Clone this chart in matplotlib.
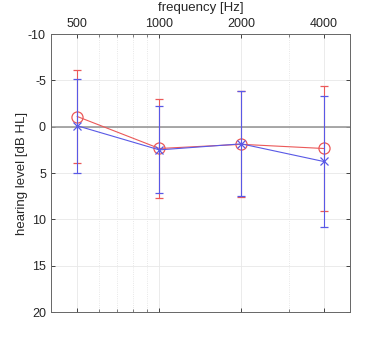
import matplotlib
matplotlib.use("Agg")
import matplotlib.pyplot as plt
import matplotlib.ticker as mticker

plt.rcParams["font.family"] = ["Liberation Sans", "DejaVu Sans"]
plt.rcParams["axes.unicode_minus"] = False

# audiogram data (hearing level in dB HL)
freqs = [500, 1000, 2000, 4000]
red_mean = [-1.1, 2.35, 1.9, 2.35]
red_err = [5.0, 5.35, 5.7, 6.75]
blue_mean = [-0.1, 2.5, 1.85, 3.75]
blue_err = [5.05, 4.7, 5.65, 7.05]

xticks = [500, 1000, 2000, 4000]
minor_xticks = [600, 700, 800, 900, 3000]
yticks = [-10, -5, 0, 5, 10, 15, 20]

RED = (0.92, 0.35, 0.35)
BLUE = (0.35, 0.35, 0.9)

fig = plt.figure(figsize=(3.88, 3.51), dpi=100)
ax = fig.add_axes([0.131, 0.111, 0.771, 0.792])

ax.axhline(0, color="0.6", linewidth=1.2, zorder=1)

ax.errorbar(freqs, red_mean, yerr=red_err, color=RED, marker="o",
            markersize=8, markerfacecolor="none", markeredgewidth=0.9,
            linewidth=0.8, elinewidth=0.8, capsize=3, capthick=0.8, zorder=3)
ax.errorbar(freqs, blue_mean, yerr=blue_err, color=BLUE, marker="x",
            markersize=6, markeredgewidth=0.9,
            linewidth=0.8, elinewidth=0.8, capsize=3, capthick=0.8, zorder=4)

ax.set_xscale("log")
ax.set_xlim(400, 5000)
ax.set_ylim(20, -10)
ax.xaxis.set_major_locator(mticker.FixedLocator(xticks))
ax.xaxis.set_major_formatter(mticker.FixedFormatter([str(f) for f in xticks]))
ax.xaxis.set_minor_locator(mticker.FixedLocator(minor_xticks))
ax.xaxis.set_minor_formatter(mticker.NullFormatter())
ax.set_yticks(yticks)

ax.xaxis.tick_top()
ax.xaxis.set_label_position("top")
ax.tick_params(axis="both", which="major", direction="in", length=3,
               labelsize=9, colors="0.15", top=True, bottom=True,
               left=True, right=True, width=0.6)
ax.tick_params(axis="x", which="minor", direction="in", length=2,
               top=True, bottom=True, width=0.5, color="0.3")
ax.tick_params(axis="x", which="major", pad=3)

ax.grid(True, which="major", color="0.91", linewidth=0.6, zorder=0)
ax.grid(True, which="minor", axis="x", color="0.88", linewidth=0.6,
        linestyle=":", zorder=0)
ax.set_axisbelow(True)

for s in ax.spines.values():
    s.set_color("0.4")
    s.set_linewidth(0.7)

ax.set_xlabel("frequency [Hz]", fontsize=9.5, color="0.15", labelpad=5)
ax.set_ylabel("hearing level [dB HL]", fontsize=9.5, color="0.15", labelpad=0)

fig.savefig("out.png", dpi=100)
